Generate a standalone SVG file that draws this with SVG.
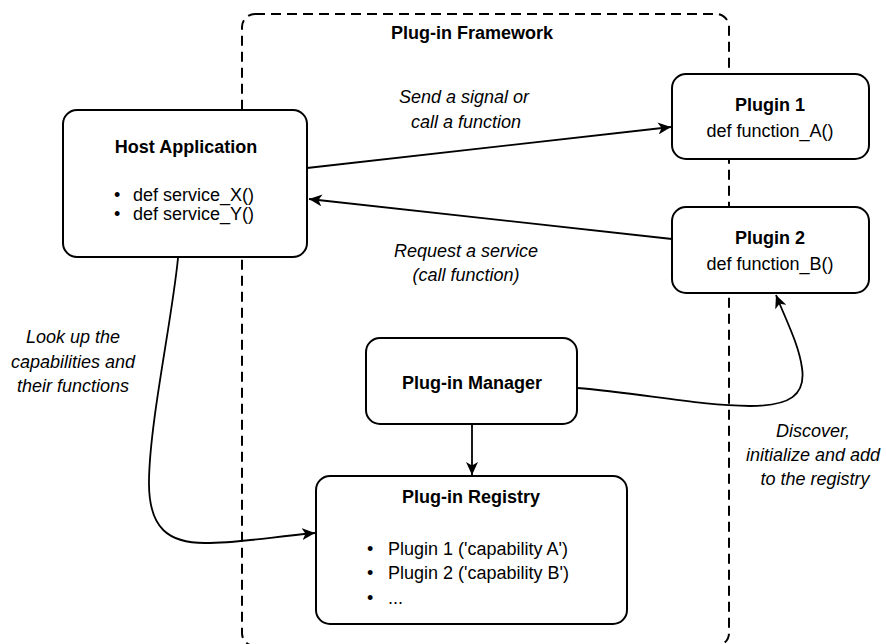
<svg xmlns="http://www.w3.org/2000/svg" width="886" height="644" viewBox="0 0 886 644">
  <defs>
    <marker id="arrow" markerUnits="userSpaceOnUse" markerWidth="14" markerHeight="12" viewBox="0 0 14 12" refX="13" refY="6" orient="auto">
      <path d="M0,0 L13,6 L0,12 L3.5,6 z" fill="#000"/>
    </marker>
    <style>
      .box { fill: #fff; stroke: #000; stroke-width: 2; }
      .frame { fill: none; stroke: #000; stroke-width: 2; stroke-dasharray: 10 6; }
      .edge { fill: none; stroke: #000; stroke-width: 1.8; marker-end: url(#arrow); }
      text { font-family: "Liberation Sans", Arial, sans-serif; font-size: 18px; fill: #000; }
      .b { font-weight: bold; }
      .i { font-style: italic; }
      .c { text-anchor: middle; }
    </style>
  </defs>

  <g id="framework">
    <rect class="frame" x="242" y="14" width="487" height="632" rx="13"/>
    <text class="b c" x="472" y="39">Plug-in Framework</text>
  </g>

  <g id="connectors">
    <path class="edge" d="M307,168 L671,127"/>
    <path class="edge" d="M672,239 L309,199"/>
    <path class="edge" d="M178,258 C172,320 150,420 149,480 C148,530 170,543 205,543 C240,543 270,537 315,533"/>
    <path class="edge" d="M472,424 L472,475"/>
    <path class="edge" d="M577,388 C640,393 700,406 750,406 C790,406 806,395 802,368 C799,345 786,320 776,295"/>
    <text class="i c" x="464" y="103">Send a signal or</text>
    <text class="i c" x="466" y="128">call a function</text>
    <text class="i c" x="466" y="257">Request a service</text>
    <text class="i c" x="466" y="281">(call function)</text>
    <text class="i c" x="73" y="343">Look up the</text>
    <text class="i c" x="73" y="368">capabilities and</text>
    <text class="i c" x="73" y="392">their functions</text>
    <text class="i c" x="813" y="437">Discover,</text>
    <text class="i c" x="813" y="461">initialize and add</text>
    <text class="i c" x="815" y="485">to the registry</text>
  </g>

  <g id="host">
    <rect class="box" x="63" y="110" width="244" height="147" rx="14"/>
    <text class="b c" x="186" y="153">Host Application</text>
    <text x="114" y="201">•</text>
    <text x="133" y="201">def service_X()</text>
    <text x="114" y="220">•</text>
    <text x="133" y="220">def service_Y()</text>
  </g>

  <g id="plugin1">
    <rect class="box" x="672" y="74" width="197" height="85" rx="14"/>
    <text class="b c" x="770" y="111">Plugin 1</text>
    <text class="c" x="770" y="137">def function_A()</text>
  </g>

  <g id="plugin2">
    <rect class="box" x="672" y="207" width="197" height="86" rx="14"/>
    <text class="b c" x="770" y="244">Plugin 2</text>
    <text class="c" x="770" y="270">def function_B()</text>
  </g>

  <g id="manager">
    <rect class="box" x="366" y="338" width="211" height="86" rx="14"/>
    <text class="b c" x="472" y="389">Plug-in Manager</text>
  </g>

  <g id="registry">
    <rect class="box" x="316" y="476" width="311" height="148" rx="14"/>
    <text class="b c" x="471" y="503">Plug-in Registry</text>
    <text x="367" y="555">•</text>
    <text x="388" y="555">Plugin 1 ('capability A')</text>
    <text x="367" y="579">•</text>
    <text x="388" y="579">Plugin 2 ('capability B')</text>
    <text x="367" y="604">•</text>
    <text x="388" y="604">...</text>
  </g>
</svg>
